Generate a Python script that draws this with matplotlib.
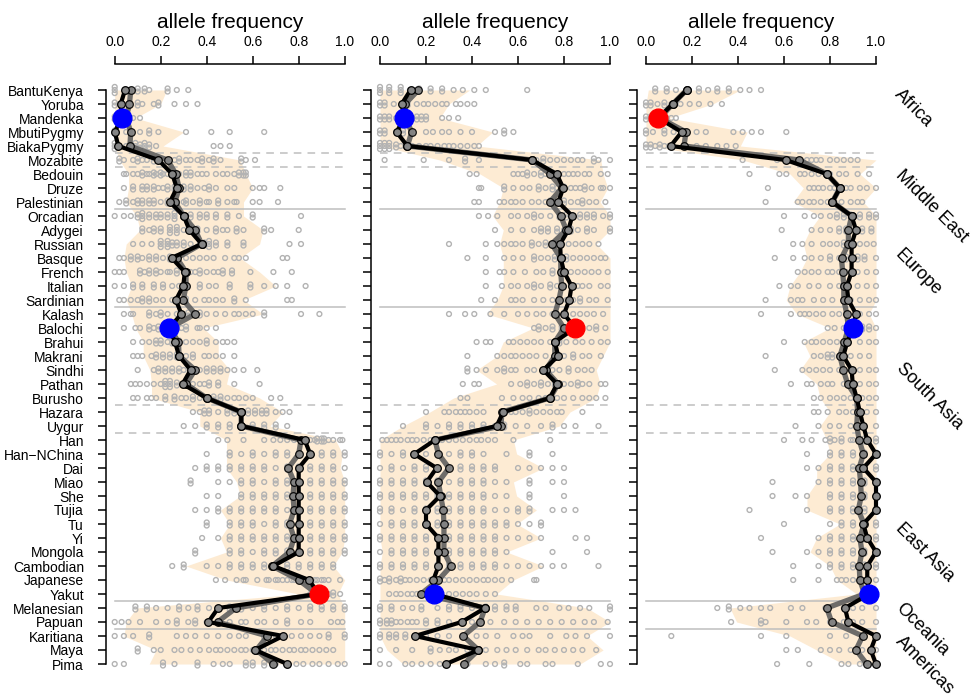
import numpy as np
import matplotlib
matplotlib.use("Agg")
import matplotlib.pyplot as plt
from collections import Counter

plt.rcParams['font.family'] = ['Liberation Sans', 'DejaVu Sans']

pops = ['BantuKenya', 'Yoruba', 'Mandenka', 'MbutiPygmy', 'BiakaPygmy', 'Mozabite',
        'Bedouin', 'Druze', 'Palestinian', 'Orcadian', 'Adygei', 'Russian', 'Basque',
        'French', 'Italian', 'Sardinian', 'Kalash', 'Balochi', 'Brahui', 'Makrani',
        'Sindhi', 'Pathan', 'Burusho', 'Hazara', 'Uygur', 'Han', 'Han\u2212NChina', 'Dai',
        'Miao', 'She', 'Tujia', 'Tu', 'Yi', 'Mongola', 'Cambodian', 'Japanese', 'Yakut',
        'Melanesian', 'Papuan', 'Karitiana', 'Maya', 'Pima']

regions = ['Africa', 'Middle East', 'Europe', 'South Asia', 'East Asia', 'Oceania', 'Americas']
region_pos = [(913, 108), (932, 206), (918, 272), (930, 396), (925, 552), (922, 630), (925, 665)]

solid_breaks = [8.5, 15.5, 36.5, 38.5]
dashed_breaks = [4.5, 5.5, 22.5, 24.5]

# panel 1
black1 = [0.045, 0.026, 0.03, 0.0, 0.016, 0.19, 0.25, 0.27, 0.24, 0.30, 0.325, 0.378, 0.248,
          0.305, 0.298, 0.266, 0.29, 0.237, 0.262, 0.28, 0.33, 0.295, 0.40, 0.55, 0.55, 0.826,
          0.85, 0.80, 0.80, 0.80, 0.80, 0.80, 0.80, 0.80, 0.69, 0.845, 0.887, 0.45, 0.407,
          0.732, 0.61, 0.75]
grey1 = [0.07, 0.064, 0.05, 0.07, 0.066, 0.23, 0.266, 0.28, 0.262, 0.30, 0.35, 0.378, 0.27,
         0.31, 0.31, 0.298, 0.35, 0.24, 0.277, 0.28, 0.35, 0.31, 0.40, 0.55, 0.55, 0.81, 0.80,
         0.755, 0.78, 0.775, 0.78, 0.76, 0.78, 0.76, 0.685, 0.80, 0.88, 0.527, 0.447, 0.664,
         0.616, 0.69]
lo1 = [0, 0, 0, 0, 0, 0.02, 0.06, 0.06, 0.05, 0.095, 0.11, 0.05, 0.04, 0.05, 0.074, 0.05,
       0.074, 0.09, 0.124, 0.124, 0.153, 0.16, 0.16, 0.37, 0.37, 0.486, 0.486, 0.486, 0.53,
       0.545, 0.46, 0.50, 0.46, 0.486, 0.31, 0.486, 0.80, 0.095, 0.05, 0.04, 0.18, 0.15]
hi1 = [0.226, 0.20, 0.09, 0.30, 0.21, 0.545, 0.57, 0.60, 0.56, 0.56, 0.645, 0.63, 0.545, 0.63,
       0.70, 0.56, 0.645, 0.385, 0.45, 0.45, 0.50, 0.486, 0.63, 0.73, 0.675, 0.96, 0.99, 0.98,
       1.0, 1.0, 1.0, 1.0, 1.0, 0.99, 0.95, 1.0, 0.97, 1.0, 1.0, 1.0, 1.0, 1.0]
dots1 = [
    "0 0 0 5 10 10 13 13 15 23 23 27 32",
    "0 0 2 10 10 12 17 19 19 26 31 36",
    "0 0 3 3 5 5 8 11",
    "0 0 5 11 15 15 19 31 42 50 65",
    "0 0 0 2 5 7 7 9 9 9 11 11 13 13 13 15 15 18 43 46 50",
    "2 2 4 8 10 10 12 14 17 17 19 21 24 26 28 28 31 33 36 38 38 41 43 43 46 55 55 57 61",
    "4 5 8 10 12 12 14 15 17 17 18 20 20 21 23 25 28 31 31 33 33 36 38 40 44 47 49 52 54 54 56 56 57 57",
    "4 8 8 12 12 14 14 17 17 19 21 23 23 26 26 28 28 30 30 33 33 36 39 41 41 44 49 52 60 63 65 72",
    "2 5 5 8 10 10 12 12 15 15 17 17 20 23 23 25 27 30 31 31 34 37 37 40 41 45 45 49 52 53 60 63 71",
    "0 4 7 10 10 12 12 12 15 15 18 18 20 20 23 23 26 26 26 30 30 33 33 37 37 40 40 44 44 49 49 54 60 60 81",
    "12 12 15 17 17 20 20 24 24 24 27 27 27 30 33 33 36 36 40 44 44 47 49 53 53 56 65 65 68 80",
    "8 12 16 20 20 20 23 23 23 25 25 27 27 30 30 33 37 39 39 41 41 41 44 44 49 49 56 56 76 81",
    "2 4 7 7 10 10 12 15 15 18 18 21 24 24 27 27 31 34 37 40 43 48 52 54 57 73 75",
    "0 2 4 11 11 13 15 15 18 18 20 23 24 27 27 30 33 35 37 37 40 43 45 47 47 51 51 59 69 77",
    "0 4 8 8 12 12 17 17 21 21 25 28 31 31 37 37 41 44 50 50 59 59 65 70 75 83",
    "2 4 7 10 12 12 15 15 18 21 25 28 31 31 35 39 41 44 47 52 52 57 75 77",
    "4 7 8 15 15 18 20 20 23 27 29 32 32 35 37 37 40 44 48 52 54 57 60 65 65 81 89",
    "4 9 11 15 15 17 19 19 21 23 25 27 29 31 31 36 37 40 44",
    "8 12 15 18 18 20 20 23 25 25 28 28 31 34 37 40 40 44 47 49 52",
    "8 10 12 16 18 18 21 21 24 24 27 27 31 34 34 39 41 44 47 52",
    "10 17 19 19 22 22 25 25 28 28 30 33 35 37 40 40 43 43 46 46 49 52 56 62",
    "7 9 11 14 17 20 22 22 22 24 24 24 27 27 31 31 34 37 39 41 41 45 45 52 63",
    "8 10 14 16 18 22 22 26 26 29 31 34 34 37 40 43 43 46 46 49 52 54 57 60 68 72",
    "34 37 39 39 41 41 45 49 49 52 52 55 58 58 61 61 64 64 66 66 70 73 76",
    "30 35 40 40 45 45 50 50 55 55 60 60 65 65 70 70 75",
    "45 49 56 65 69 72 75 78 81 83 85 87 88 88 90 90 91 91 93 95 98 99",
    "40 50 50 55 60 60 65 70 70 75 75 80 85 85 90 90 95 95 100 100",
    "35 40 40 45 45 50 50 55 55 60 60 65 65 70 75 75 80 80 85 85 90 90 95 95 100",
    "33 33 45 50 55 55 60 60 65 70 70 75 75 80 85 85 90 90 95 95 100 100",
    "40 45 55 55 60 60 65 65 70 70 75 75 80 80 85 85 90 90 95 95 100 100",
    "35 40 45 45 50 50 55 55 60 60 65 65 70 70 75 80 80 85 85 90 90 95 95 100 100",
    "40 40 50 50 55 55 60 60 65 70 70 75 75 80 85 85 90 90 95 95 100 100",
    "38 45 50 50 55 55 60 60 65 65 70 70 75 75 80 80 85 85 90 90 95 95 100 100",
    "35 35 50 50 55 55 60 65 65 70 70 75 75 80 80 85 85 90 90 95 95 100 100",
    "25 30 30 40 45 50 50 55 55 60 60 65 65 70 70 75 75 80 80 85 85 90 90 95 95",
    "44 48 53 56 57 62 66 67 70 71 73 75 77 78 80 81 83 84 85 87 88 90 91 93 98",
    "85 89 93 95 95 98",
    "9 9 14 14 18 23 28 28 32 36 36 41 45 50 50 55 55 60 65 65 70 75 75 80 85 85 90 90 95 95 100 100",
    "0 3 6 11 18 23 27 27 32 35 35 40 45 50 55 57 62 65 70 75 75 81 85 94 97 99",
    "0 4 8 15 15 27 31 35 40 45 50 54 57 65 65 70 73 77 81 85 89 93 93 100 100",
    "10 10 17 20 26 29 33 37 41 44 46 49 52 55 57 60 65 68 70 73 76 78 81 83 86 89 92 95",
    "0 4 21 21 26 36 36 43 47 50 57 57 60 60 65 65 70 75 79 82 86 89 93 97 100",
]
marks1 = [('Mandenka', 'blue'), ('Balochi', 'blue'), ('Yakut', 'red')]

# panel 2
black2 = [0.133, 0.094, 0.106, 0.072, 0.119, 0.662, 0.768, 0.797, 0.775, 0.836, 0.819, 0.783,
          0.786, 0.80, 0.833, 0.823, 0.80, 0.848, 0.76, 0.775, 0.71, 0.77, 0.739, 0.536, 0.507,
          0.239, 0.149, 0.246, 0.203, 0.261, 0.20, 0.20, 0.254, 0.254, 0.254, 0.232, 0.236,
          0.457, 0.355, 0.152, 0.428, 0.287]
grey2 = [0.167, 0.109, 0.11, 0.138, 0.119, 0.662, 0.739, 0.79, 0.739, 0.786, 0.81, 0.746,
         0.786, 0.786, 0.79, 0.778, 0.76, 0.80, 0.76, 0.76, 0.72, 0.775, 0.739, 0.53, 0.526,
         0.239, 0.254, 0.30, 0.254, 0.264, 0.275, 0.278, 0.278, 0.278, 0.309, 0.254, 0.178,
         0.457, 0.435, 0.362, 0.428, 0.365]
lo2 = [0, 0, 0, 0, 0, 0.26, 0.435, 0.536, 0.52, 0.49, 0.536, 0.52, 0.536, 0.536, 0.536, 0.51,
       0.464, 0.666, 0.536, 0.51, 0.42, 0.507, 0.32, 0.217, 0.10, 0, 0, 0, 0, 0, 0, 0, 0, 0.01,
       0, 0, 0, 0, 0, 0, 0.03, 0.10]
hi2 = [0.39, 0.30, 0.26, 0.49, 0.42, 0.96, 0.97, 0.99, 0.957, 1.0, 1.0, 0.94, 1.0, 1.0, 1.0,
       1.0, 1.0, 1.0, 1.0, 0.97, 0.94, 0.957, 0.94, 0.826, 0.78, 0.58, 0.594, 0.71, 0.58, 0.594,
       0.68, 0.594, 0.70, 0.55, 0.71, 0.58, 0.507, 0.90, 1.0, 0.90, 0.97, 0.87]
dots2 = [
    "0 0 0 4 4 4 9 9 9 13 17 17 22 22 27 27 32 36 41 46 64",
    "0 0 2 2 6 12 12 16 19 21 24 27 29 33 35 38 41",
    "0 0 2 2 4 4 7 10 13 16 16 18 18 20 20 27 30 34",
    "0 0 2 2 7 10 10 14 20 23 27 30 35 40 50 54 54 58",
    "0 0 0 2 2 2 4 4 4 7 7 9 12 14 17 20 22 25 28 30 32 35 38 41 43",
    "2 19 30 37 37 43 68 71 71 74 77 80 83 86 88 93 93 95 100",
    "39 42 58 60 62 64 64 67 70 70 72 75 75 77 80 82 84 86 89 91 96 99",
    "43 44 54 54 58 62 65 69 69 72 75 75 77 80 80 83 85 87 89 89 92 96 97 100",
    "41 43 52 54 57 59 62 66 69 72 74 74 77 80 80 83 86 88 88 91 94 98",
    "43 47 51 57 60 64 67 67 70 74 78 78 81 81 84 87 87 90 90 93 93 97 100 100",
    "50 57 62 67 70 70 73 73 77 77 80 83 83 86 90 90 93 100 100",
    "30 46 51 54 57 59 62 66 66 69 72 72 76 76 79 82 85 88 91 95",
    "38 46 54 58 62 67 67 70 73 76 76 78 81 81 84 87 90 93 96 98",
    "46 52 54 58 63 68 71 75 75 79 79 83 86 89 92 95 99",
    "46 53 57 60 64 67 67 70 74 74 77 80 83 86 88 91 96 99",
    "44 50 57 59 62 67 71 75 78 78 81 84 87 87 91 94 99",
    "30 37 41 48 54 60 64 68 71 75 77 80 80 84 87 90 93 97",
    "67 69 69 72 75 75 79 79 82 91 94 94 98",
    "42 46 48 56 58 61 64 67 70 74 78 78 81 85 88 92 96 99",
    "38 51 54 57 59 62 65 68 72 76 80 84 84 88 91 96",
    "38 38 42 46 51 54 54 57 59 64 67 72 75 78 82 82 86 89 92",
    "36 41 43 57 61 64 64 67 70 70 73 76 76 80 83 86 86 88 91 96 98",
    "35 38 53 58 62 65 69 72 77 80 84 88 91 94 98",
    "20 28 30 33 35 37 39 42 45 53 57 59 62 65 65 68 71 74 77 79 88",
    "10 20 20 25 30 30 35 35 40 40 45 45 50 54 54 59 64 70 75 75 80 85 95",
    "1 3 5 7 9 12 14 16 19 22 25 27 30 33 36 39 42 44 47 50 58 74",
    "0 0 5 10 10 15 20 25 30 35 35 40 40 45 55 65 65 75",
    "0 5 5 10 15 15 20 20 25 30 35 35 40 40 45 45 50 50 60 65 70 75 80",
    "0 0 5 5 10 10 15 15 20 20 25 25 30 35 35 40 40 45 45 50 55 65 65 75 80",
    "0 0 5 5 10 10 15 15 20 20 25 25 30 30 35 35 40 40 45 45 50 55 65 65 80",
    "0 0 5 5 10 15 15 20 20 25 25 30 30 35 35 40 40 45 45 50 55 60 60 65 65 75 80 85",
    "0 5 5 10 10 15 15 20 20 25 25 30 30 35 35 40 40 45 45 50 50 55 55 60 65 70 70",
    "0 0 5 5 10 10 15 15 20 20 25 25 30 30 35 35 40 40 45 45 50 50 55 60 65 70 85 90",
    "0 5 5 10 10 15 15 20 20 25 25 30 30 35 35 40 40 45 45 50 50 55 75 90",
    "0 0 5 5 10 10 15 15 20 20 25 25 30 30 35 35 40 40 45 45 50 50 55 60 65 70 75 80 95",
    "0 0 2 4 4 7 9 9 11 13 16 19 22 25 28 30 33 36 39 42 45 47 50 53 57 67 68",
    "4 7 9 12 14 16 19 24 30 33 36 39 42 46 50",
    "0 0 5 5 10 14 18 18 25 30 30 35 35 40 46 46 50 50 55 55 59 59 68 72 78 82 87 91 100 100",
    "0 0 3 3 5 5 7 9 12 14 16 20 20 25 25 30 35 40 44 44 48 54 59 64 69 74 79 84 89 93 99",
    "0 0 4 4 7 7 11 11 15 20 25 30 36 42 46 51 58 62 65 74 81 85 90 100",
    "0 7 14 22 22 26 30 33 38 43 46 51 55 59 64 69 72 76 80 84 88 94",
    "0 4 11 14 18 22 26 38 46 50 54 54 61 64 72 75 86 96 100",
]
marks2 = [('Mandenka', 'blue'), ('Balochi', 'red'), ('Yakut', 'blue')]

# panel 3
black3 = [0.177, 0.116, 0.054, 0.155, 0.107, 0.607, 0.786, 0.843, 0.81, 0.894, 0.913, 0.894,
          0.894, 0.894, 0.873, 0.88, 0.913, 0.899, 0.875, 0.858, 0.894, 0.899, 0.916, 0.93,
          0.945, 0.962, 1.0, 0.945, 1.0, 1.0, 1.0, 0.945, 0.962, 1.0, 0.962, 0.962, 0.971,
          0.865, 0.88, 1.0, 0.977, 1.0]
grey3 = [0.177, 0.116, 0.06, 0.174, 0.165, 0.667, 0.786, 0.843, 0.81, 0.894, 0.88, 0.88, 0.85,
         0.855, 0.86, 0.86, 0.873, 0.88, 0.862, 0.843, 0.858, 0.877, 0.916, 0.92, 0.916, 0.927,
         0.945, 0.927, 0.933, 0.936, 0.923, 0.948, 0.93, 0.939, 0.927, 0.93, 0.95, 0.786, 0.807,
         0.942, 0.913, 0.96]
lo3 = [0.01, 0, 0, 0, 0, 0.42, 0.626, 0.684, 0.64, 0.757, 0.713, 0.684, 0.70, 0.67, 0.626,
       0.61, 0.655, 0.80, 0.684, 0.713, 0.67, 0.742, 0.757, 0.80, 0.757, 0.786, 0.80, 0.742,
       0.742, 0.70, 0.70, 0.843, 0.742, 0.713, 0.80, 0.83, 0.916, 0.365, 0.394, 0.626, 0.742,
       0.858]
hi3 = [0.41, 0.29, 0.10, 0.44, 0.41, 1.0, 0.93, 1.0, 0.945, 1.0, 1.0, 1.0, 1.0, 1.0, 1.0, 1.0,
       0.97, 1.0, 1.0, 1.0, 1.0, 1.0, 1.0, 1.0, 1.0, 1.0, 1.0, 1.0, 1.0, 1.0, 1.0, 1.0, 1.0,
       1.0, 1.0, 1.0, 1.0, 1.0, 1.0, 1.0, 1.0, 1.0]
dots3 = [
    "4 4 9 9 13 18 23 23 27 31 31 36 36 41 45 50",
    "0 0 2 2 5 8 8 11 15 19 23 28 33",
    "0 0 2 2 5 9 11 13",
    "0 0 3 8 8 12 17 22 26 38 42 46 50 61",
    "0 0 2 2 4 6 6 8 10 17 22 26 31 35 39",
    "42 57 61 67 70 72 74 76 80 83 86 89 92",
    "45 58 61 67 69 72 75 78 80 84 87 92 97",
    "53 71 73 75 77 80 82 84 87 89 93 96 100",
    "52 66 68 71 73 76 79 82 85 89 92 94",
    "60 69 73 76 80 83 83 86 86 89 89 93 93 97 97 100 100",
    "59 72 76 80 84 84 87 87 91 91 94 94 98 98",
    "64 68 72 77 80 83 86 86 89 89 93 96 99",
    "56 64 69 72 76 80 80 84 87 87 92 92 95 95 100",
    "66 69 72 75 79 81 84 87 92 96 100",
    "58 63 66 71 75 80 84 87 92 96 100",
    "52 63 66 68 73 77 81 86 89 93 97 100",
    "50 63 67 69 71 74 77 81 84 87 93 97 100",
    "79 82 86 94 94 97 97 100",
    "60 69 72 74 77 80 83 87 93 97 100",
    "52 73 76 79 79 81 81 84 89 93 97",
    "56 68 71 74 77 80 84 89 93 97 100",
    "63 70 72 76 79 81 86 89 93 97 100",
    "73 76 80 83 86 89 92 94 97 100",
    "73 75 79 84 87 90 93 96 100",
    "65 75 80 84 89 94 100",
    "60 68 72 78 80 80 82 85 85 89 90 93 95 95 100 100",
    "70 80 80 85 85 90 90 95 95 100 100",
    "70 75 80 80 85 85 90 90 95 95 100 100",
    "55 75 80 80 85 85 90 90 95 95 100 100",
    "55 65 70 80 80 85 85 90 90 95 95 100 100",
    "45 70 80 80 85 85 90 90 95 95 100 100",
    "60 80 85 85 90 90 95 95 100 100",
    "50 75 80 80 85 85 90 90 95 95 100 100",
    "55 70 75 80 80 85 85 90 90 95 95 100 100",
    "64 75 80 80 85 85 90 90 95 95 100 100",
    "64 75 83 85 87 90 93 94 100",
    "94 100",
    "31 36 36 41 45 50 54 63 68 78 86 90 94 100",
    "37 50 50 52 61 70 74 80 86 90 94 100",
    "11 50 61 80 87 94 100",
    "61 66 76 80 84 89 94 100",
    "57 71 85 88 93 97 100",
]
marks3 = [('Mandenka', 'red'), ('Balochi', 'blue'), ('Yakut', 'blue')]

W, H = 977, 700
zero_px = [114.7, 380.0, 646.0]   # where 0.0 sits on each panel
unit = 230.0                      # pixels per 1.0
top_px, row0_px, row_px, bot_px = 64, 90, 14, 690

fig = plt.figure(figsize=(W / 100, H / 100), dpi=100)
rows = np.arange(len(pops))

panels = [(black1, grey1, lo1, hi1, dots1, marks1),
          (black2, grey2, lo2, hi2, dots2, marks2),
          (black3, grey3, lo3, hi3, dots3, marks3)]

for p, (black, grey, lo, hi, dots, marks) in enumerate(panels):
    left = zero_px[p] - 0.04 * unit
    ax = fig.add_axes([left / W, 1 - bot_px / H, 1.08 * unit / W, (bot_px - top_px) / H])
    ax.set_xlim(-0.04, 1.04)
    ax.set_ylim(41 + (bot_px - 664) / row_px, -(row0_px - top_px) / row_px)

    ax.fill_betweenx(rows, lo, hi, color='#fdebd3', lw=0, zorder=1)
    for yb in solid_breaks:
        ax.plot([0, 1], [yb, yb], color='#bebebe', lw=1.1, zorder=2)
    for yb in dashed_breaks:
        ax.plot([0, 1], [yb, yb], color='#bebebe', lw=1.1, ls=(0, (5, 4)), zorder=2)

    # individual estimates, repeated values stacked vertically
    xs, ys = [], []
    for i, s in enumerate(dots):
        cnt = Counter(int(v) for v in s.split())
        for v, c in cnt.items():
            for k in range(c):
                xs.append(v / 100)
                ys.append(i + (k - (c - 1) / 2) * 0.22)
    ax.scatter(xs, ys, s=12, facecolors='none', edgecolors='#b3b3b3', linewidths=1.0, zorder=3)

    ax.plot(grey, rows, color='#5e5e5e', lw=3.8, alpha=0.9, marker='o', ms=5.5,
            mfc='#858585', mec='black', mew=0.9, zorder=4)
    ax.plot(black, rows, color='black', lw=3.0, marker='o', ms=5.5,
            mfc='#858585', mec='black', mew=0.9, zorder=5)
    for name, col in marks:
        r = pops.index(name)
        ax.plot(black[r], r, 'o', ms=13.5, color=col, zorder=6)

    for s in ['right', 'bottom']:
        ax.spines[s].set_visible(False)
    ax.spines['top'].set_bounds(0, 1)
    ax.spines['left'].set_bounds(0, 41)
    ax.spines['top'].set_linewidth(1.1)
    ax.spines['left'].set_linewidth(1.1)

    ax.xaxis.tick_top()
    ax.set_xticks([0, 0.2, 0.4, 0.6, 0.8, 1.0])
    ax.set_xticklabels(['0.0', '0.2', '0.4', '0.6', '0.8', '1.0'])
    ax.tick_params(axis='x', length=6, width=1.1, pad=5, labelsize=10)
    ax.set_yticks(rows)
    ax.set_yticklabels(pops if p == 0 else [])
    ax.tick_params(axis='y', length=6, width=1.1, pad=9.5, labelsize=10)

    fig.text((zero_px[p] + 0.5 * unit) / W, 1 - 22.7 / H, 'allele frequency',
             ha='center', va='center', fontsize=15)

for name, (px, py) in zip(regions, region_pos):
    fig.text(px / W, 1 - py / H, name, rotation=-45, ha='center', va='center', fontsize=13)

fig.savefig('out.png', dpi=100)
